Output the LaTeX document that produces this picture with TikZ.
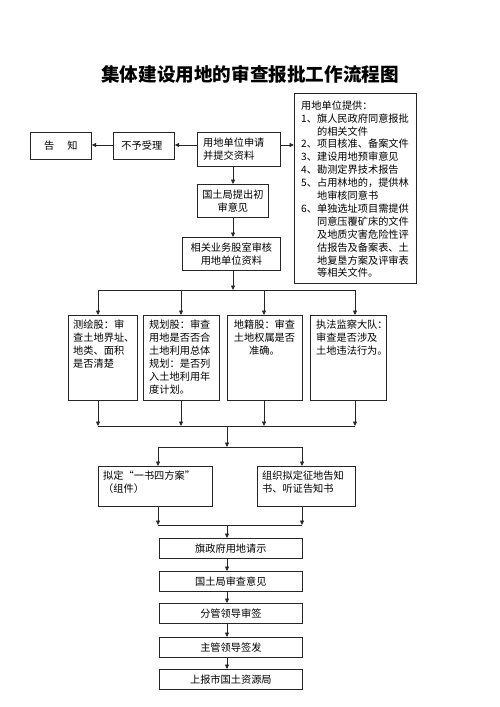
\documentclass[tikz,border=0pt]{standalone}
\usepackage{fontspec}
\setmainfont{Noto Sans CJK SC}
\usetikzlibrary{arrows.meta}
\tikzset{
  box/.style={draw=black!85, line width=0.7pt, inner sep=0pt, anchor=north west},
  arr/.style={draw=black!85, line width=0.7pt, -{Triangle[length=4.5pt,width=4pt]}},
  ln/.style={draw=black!85, line width=0.7pt},
  txt/.style={inner sep=0pt, font=\fontsize{10.2pt}{12.9pt}\selectfont, align=left},
  ctxt/.style={inner sep=0pt, font=\fontsize{10.2pt}{12.9pt}\selectfont, align=center},
}
\newcommand{\bx}[5]{\node[box, minimum width=#4pt-#2pt, minimum height=#5pt-#3pt] (#1) at (#2,#3) {};}
\begin{document}
\begin{tikzpicture}[x=1pt,y=-1pt]
\useasboundingbox (0,0) rectangle (500,707);
% title
\node[inner sep=0pt, font=\fontsize{18.6pt}{20pt}\selectfont\bfseries] (title) at (250,74) {集体建设用地的审查报批工作流程图};
% boxes
\bx{gz}{30}{132}{91}{159}
\bx{byl}{113}{132}{174}{159}
\bx{sq}{197}{132}{280}{166}
\bx{cs}{197}{184}{268}{217}
\bx{xg}{182}{237}{280}{270}
\bx{tg}{294}{93}{416}{283}
\bx{r1}{68}{315}{137}{400}
\bx{r2}{143}{315}{219}{400}
\bx{r3}{227}{315}{302}{400}
\bx{r4}{310}{315}{386}{400}
\bx{nd}{98}{466}{212}{506}
\bx{zz}{257}{466}{355}{506}
\bx{b1}{159}{538}{302}{558}
\bx{b2}{159}{571}{302}{591}
\bx{b3}{159}{603}{302}{623}
\bx{b4}{159}{637}{302}{657}
\bx{b5}{159}{669}{302}{689}
% texts
\node[ctxt] (tgz) at (gz.center) {告\hspace{1.3em}知};
\node[ctxt] (tbyl) at ([xshift=-2pt]byl.center) {不予受理};
\node[txt, anchor=west] (tsq) at (203,149) {用地单位申请\\并提交资料};
\node[ctxt] (tcs) at (cs.center) {国土局提出初\\审意见};
\node[ctxt] (txg) at (xg.center) {相关业务股室审核\\用地单位资料};
\node[txt, anchor=north west] (ttg) at (301,100) {%
\begin{tabular}{@{}l@{}l@{}}
\multicolumn{2}{@{}l@{}}{用地单位提供：}\\
1、&旗人民政府同意报批\\
 &的相关文件\\
2、&项目核准、备案文件\\
3、&建设用地预审意见\\
4、&勘测定界技术报告\\
5、&占用林地的，提供林\\
 &地审核同意书\\
6、&单独选址项目需提供\\
 &同意压覆矿床的文件\\
 &及地质灾害危险性评\\
 &估报告及备案表、土\\
 &地复垦方案及评审表\\
 &等相关文件。
\end{tabular}};
\node[txt, anchor=north west] (tr1) at (73,320) {测绘股：审\\查土地界址、\\地类、面积\\是否清楚};
\node[txt, anchor=north west] (tr2) at (149,320) {规划股：审查\\用地是否否合\\土地利用总体\\规划：是否列\\入土地利用年\\度计划。};
\node[ctxt, anchor=north] (tr3) at (264.5,320) {地籍股：审查\\土地权属是否\\准确。};
\node[txt, anchor=north west] (tr4) at (316,320) {执法监察大队：\\审查是否涉及\\土地违法行为。};
\node[txt, anchor=north west] (tnd) at (103,471) {拟定“一书四方案”\\（组件）};
\node[txt, anchor=north west] (tzz) at (262,471) {组织拟定征地告知\\书、听证告知书};
\node[ctxt] (tb1) at (b1.center) {旗政府用地请示};
\node[ctxt] (tb2) at (b2.center) {国土局审查意见};
\node[ctxt] (tb3) at (b3.center) {分管领导审签};
\node[ctxt] (tb4) at (b4.center) {主管领导签发};
\node[ctxt] (tb5) at (b5.center) {上报市国土资源局};
% coordinates
\coordinate (h1) at (0,145);
\coordinate (v1) at (233,0);
\coordinate (j1) at (233,290);
\coordinate (a1) at (98,290);
\coordinate (a2) at (181,290);
\coordinate (a3) at (264,290);
\coordinate (a4) at (355,290);
\coordinate (c1) at (98,426);
\coordinate (c2) at (181,426);
\coordinate (c3) at (264,426);
\coordinate (c4) at (355,426);
\coordinate (m1) at (227,426);
\coordinate (m2) at (227,447);
\coordinate (d1) at (158,447);
\coordinate (d2) at (302,447);
\coordinate (e1) at (158,525);
\coordinate (e2) at (302,525);
\coordinate (f1) at (227,525);
% connectors
\draw[arr] (sq.west |- h1) -- (byl.east |- h1);
\draw[arr] (byl.west |- h1) -- (gz.east |- h1);
\draw[arr] (sq.east |- h1) -- (tg.west |- h1);
\draw[arr] (sq.south -| v1) -- (cs.north -| v1);
\draw[arr] (cs.south -| v1) -- (xg.north -| v1);
\draw[arr] (xg.south -| v1) -- (j1);
\draw[ln] (a1) -- (a4);
\draw[arr] (a1) -- (r1.north -| a1);
\draw[arr] (a2) -- (r2.north -| a2);
\draw[arr] (a3) -- (r3.north -| a3);
\draw[arr] (a4) -- (r4.north -| a4);
\draw[arr] (r1.south -| c1) -- (c1);
\draw[arr] (r2.south -| c2) -- (c2);
\draw[arr] (r3.south -| c3) -- (c3);
\draw[arr] (r4.south -| c4) -- (c4);
\draw[ln] (c1) -- (c4);
\draw[arr] (m1) -- (m2);
\draw[ln] (d1) -- (d2);
\draw[arr] (d1) -- (nd.north -| d1);
\draw[arr] (d2) -- (zz.north -| d2);
\draw[arr] (nd.south -| e1) -- (e1);
\draw[arr] (zz.south -| e2) -- (e2);
\draw[ln] (e1) -- (e2);
\draw[arr] (f1) -- (b1.north -| f1);
\draw[arr] (b1.south -| f1) -- (b2.north -| f1);
\draw[arr] (b2.south -| f1) -- (b3.north -| f1);
\draw[arr] (b3.south -| f1) -- (b4.north -| f1);
\draw[arr] (b4.south -| f1) -- (b5.north -| f1);
\end{tikzpicture}
\end{document}
